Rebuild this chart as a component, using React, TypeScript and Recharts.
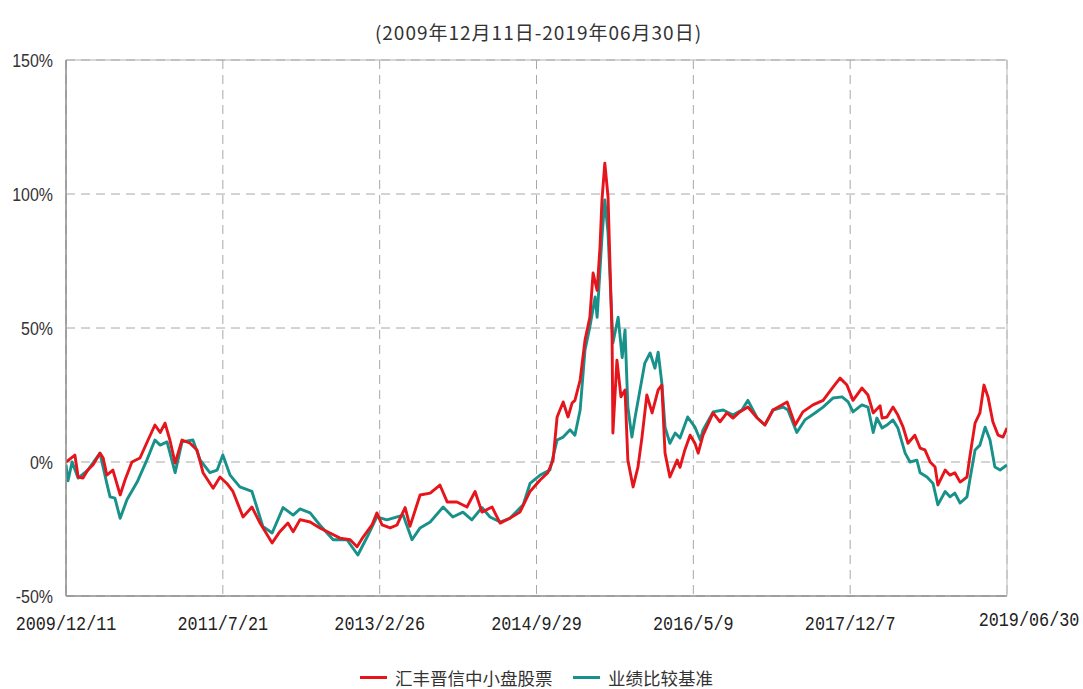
import React from "react";
import { LineChart, Line, XAxis, YAxis, CartesianGrid, ReferenceLine } from "recharts";

// x axis is a trading-day index, tick labels every 388 days
const xTickDays = [0, 388, 776, 1164, 1552, 1940, 2328];
const xTickLabels = ["2009/12/11", "2011/7/21", "2013/2/26", "2014/9/29", "2016/5/9", "2017/12/7", "2019/06/30"];
const yTicks = [-50, 0, 50, 100, 150];

const seriesNames = ["汇丰晋信中小盘股票", "业绩比较基准"];
const seriesColors = ["#e6141b", "#18918a"];

// 汇丰晋信中小盘股票 cumulative return (%)
const fundDays = [
  0, 22, 30, 42, 54, 67, 84, 92, 101, 116,
  134, 146, 163, 183, 203, 220, 233, 245, 257, 270,
  287, 307, 324, 339, 364, 381, 398, 413, 438, 460,
  480, 510, 529, 549, 562, 579, 604, 628, 653, 678,
  703, 720, 735, 757, 769, 782, 802, 819, 839, 851,
  876, 901, 925, 943, 967, 992, 1012, 1029, 1054, 1074,
  1098, 1123, 1148, 1173, 1192, 1205, 1215, 1230, 1242, 1252,
  1259, 1272, 1284, 1296, 1304, 1314, 1321, 1326, 1333, 1341,
  1351, 1353, 1363, 1373, 1383, 1390, 1403, 1415, 1425, 1437,
  1450, 1465, 1474, 1482, 1494, 1512, 1519, 1531, 1544, 1556,
  1564, 1576, 1601, 1618, 1635, 1650, 1667, 1687, 1710, 1729,
  1749, 1771, 1784, 1804, 1823, 1848, 1873, 1898, 1915, 1932,
  1947, 1969, 1984, 1997, 2014, 2019, 2031, 2046, 2058, 2071,
  2083, 2100, 2113, 2125, 2138, 2150, 2157, 2175, 2187, 2199,
  2212, 2229, 2236, 2249, 2261, 2271, 2281, 2293, 2306, 2318,
  2328,
];
const fundReturn = [
  0, 2.6, -5.6, -6, -3, -1, 3.3, 1.5, -4.9, -3,
  -12.3, -6.7, 0, 1.5, 8.2, 13.8, 11, 14.5, 8.2, -0.4,
  8.2, 7, 4.5, -4, -9.8, -5.6, -8, -11, -20.5, -16.8,
  -22.8, -30.2, -26, -22.8, -26, -21.5, -22.4, -24.6, -26.5, -28.4,
  -29, -31.6, -28, -23.5, -19, -23.5, -24.6, -23.5, -17, -24,
  -12.3, -11.6, -8.6, -14.9, -14.9, -16.8, -11, -18.7, -16.8, -22.8,
  -21, -18.7, -11, -6.7, -4, 0.7, 16.8, 22.4, 16.8, 22,
  23, 30.6, 45.5, 54, 70.5, 64, 80, 97.8, 111.5, 98.9,
  46.6, 10.8, 38, 24.3, 26.9, 0.7, -9.3, -1.9, 9.3, 25,
  18.3, 26.9, 28.7, 3.3, -5.6, 0.7, -2, 4.5, 10, 7,
  3.3, 10, 18.3, 15, 18.3, 16.4, 18.7, 20.5, 16.4, 13.8,
  19.4, 21.3, 22.4, 13.8, 18.7, 21.3, 23, 28, 31.3, 28.7,
  23, 27.6, 25, 18.3, 21, 16.4, 16.8, 20.5, 17.5, 13,
  7, 10, 5.2, 4.5, 0, -1.9, -8.6, -3, -4.9, -4,
  -7.5, -5.6, 1.9, 14.5, 18.3, 28.7, 24.3, 15, 10, 9.3,
  12.7,
];

// 业绩比较基准 cumulative return (%)
const benchDays = [
  0, 5, 15, 30, 54, 84, 101, 109, 121, 134,
  151, 176, 200, 220, 233, 250, 270, 287, 314, 332,
  356, 374, 388, 406, 430, 460, 487, 510, 537, 562,
  579, 604, 628, 661, 695, 722, 745, 769, 794, 834,
  856, 876, 901, 933, 957, 982, 1004, 1029, 1049, 1074,
  1098, 1131, 1148, 1173, 1197, 1215, 1230, 1247, 1259, 1272,
  1284, 1296, 1309, 1314, 1326, 1333, 1341, 1353, 1366, 1376,
  1383, 1390, 1400, 1408, 1420, 1432, 1445, 1457, 1465, 1474,
  1482, 1494, 1507, 1519, 1538, 1556, 1569, 1576, 1601, 1626,
  1650, 1672, 1687, 1710, 1729, 1749, 1774, 1786, 1808, 1828,
  1853, 1873, 1898, 1920, 1935, 1947, 1969, 1984, 1997, 2006,
  2019, 2031, 2046, 2058, 2076, 2088, 2105, 2113, 2130, 2145,
  2157, 2175, 2187, 2199, 2212, 2229, 2236, 2249, 2261, 2274,
  2286, 2298, 2311, 2328,
];
const benchReturn = [
  -1, -7, 0, -6, -3, 3.3, -8, -13, -13.5, -21,
  -14, -7.5, 0.7, 8.2, 6.3, 7.5, -4, 7.5, 8.2, 0.7,
  -4, -3, 2.6, -4.9, -9.3, -11, -24, -26.5, -17, -19.8,
  -17.5, -19, -23.5, -29, -29, -34.7, -28, -20.5, -21.6, -19.8,
  -29, -24.6, -22.4, -16.8, -20.5, -18.7, -21.6, -17, -20.5, -22.4,
  -21, -16, -8, -4.9, -3, 8.2, 9.3, 12, 10, 19.4,
  41.8, 50.4, 61.6, 54, 84, 97.8, 85.4, 44.4, 54, 39,
  49.3, 20.5, 9.3, 16.8, 26.9, 36.9, 40.7, 35, 41, 29.5,
  13, 7, 10.8, 9, 16.8, 13, 8.2, 12, 18.7, 19.4,
  17.5, 19.4, 23, 16.4, 13.8, 19.4, 20.5, 19.4, 11, 15.7,
  18.3, 20.5, 23.9, 24.3, 22.4, 18.7, 21.3, 20.5, 11, 16.4,
  12.7, 13.8, 15.7, 12.7, 3.3, 0, 0.7, -4, -5.6, -8,
  -16, -11, -13, -11.6, -15.3, -13, -6.7, 4.5, 6.3, 13,
  8.2, -1.9, -3, -1.1,
];

const fundData = fundDays.map((day, i) => ({ day, value: fundReturn[i] }));
const benchData = benchDays.map((day, i) => ({ day, value: benchReturn[i] }));

const XTick = (props: any) => {
  const { x, y, payload } = props;
  const idx = xTickDays.indexOf(payload.value);
  const last = idx === xTickDays.length - 1;
  return (
    <g transform={`translate(${x + (last ? 22 : 0)},${y + (last ? 30 : 34)})`}>
      <text textAnchor="middle" transform="scale(0.8,1)" fontFamily="Liberation Mono" fontSize={21} fill="#222">
        {xTickLabels[idx]}
      </text>
    </g>
  );
};

const YTick = (props: any) => {
  const { x, y, payload } = props;
  return (
    <g transform={`translate(${x},${y})`}>
      <text textAnchor="end" dy="0.36em" transform="scale(0.84,1)" fontFamily="Liberation Sans" fontSize={19} fill="#333">
        {`${payload.value}%`}
      </text>
    </g>
  );
};

export default function App() {
  return (
    <div style={{ position: "absolute", left: 0, top: 0, width: 1083, height: 689, background: "#fff" }}>
      <div
        style={{
          position: "absolute",
          left: 0,
          top: 21,
          width: 1077,
          textAlign: "center",
          fontFamily: "Noto Sans CJK SC",
          fontSize: 19,
          lineHeight: "22px",
          letterSpacing: 1,
          color: "#333",
          whiteSpace: "nowrap",
        }}
      >
        (2009年12月11日-2019年06月30日)
      </div>
      <LineChart width={1083} height={689} margin={{ top: 60, right: 76, bottom: 53, left: 0 }}>
        <CartesianGrid strokeDasharray="9 6" stroke="#a8a8a8" />
        <XAxis
          dataKey="day"
          type="number"
          domain={[0, 2328]}
          ticks={xTickDays}
          interval={0}
          height={40}
          tickSize={0}
          tickMargin={0}
          tick={<XTick />}
          axisLine={{ stroke: "#8c8c8c", strokeWidth: 1.5 }}
          tickLine={false}
          allowDataOverflow
        />
        <YAxis
          type="number"
          domain={[-50, 150]}
          ticks={yTicks}
          interval={0}
          width={66}
          tickSize={0}
          tickMargin={13}
          tick={<YTick />}
          axisLine={{ stroke: "#8c8c8c", strokeWidth: 1.5 }}
          tickLine={false}
        />
        <ReferenceLine y={150} stroke="#b0b0b0" strokeWidth={1.2} />
        <ReferenceLine x={2328} stroke="#c4c4c4" strokeWidth={1.2} />
        <Line
          data={benchData}
          dataKey="value"
          name={seriesNames[1]}
          stroke={seriesColors[1]}
          strokeWidth={2.9}
          strokeLinejoin="round"
          dot={false}
          type="linear"
          isAnimationActive={false}
        />
        <Line
          data={fundData}
          dataKey="value"
          name={seriesNames[0]}
          stroke={seriesColors[0]}
          strokeWidth={2.9}
          strokeLinejoin="round"
          dot={false}
          type="linear"
          isAnimationActive={false}
        />
      </LineChart>
      {seriesNames.map((name, i) => (
        <div
          key={name}
          style={{
            position: "absolute",
            left: i === 0 ? 360 : 573,
            top: 665,
            height: 24,
            display: "flex",
            alignItems: "center",
            fontFamily: "Noto Sans CJK SC",
            fontSize: 17.5,
            color: "#333",
            whiteSpace: "nowrap",
          }}
        >
          <span style={{ display: "inline-block", width: 27, height: 3, background: seriesColors[i], marginRight: 8 }} />
          {name}
        </div>
      ))}
    </div>
  );
}
